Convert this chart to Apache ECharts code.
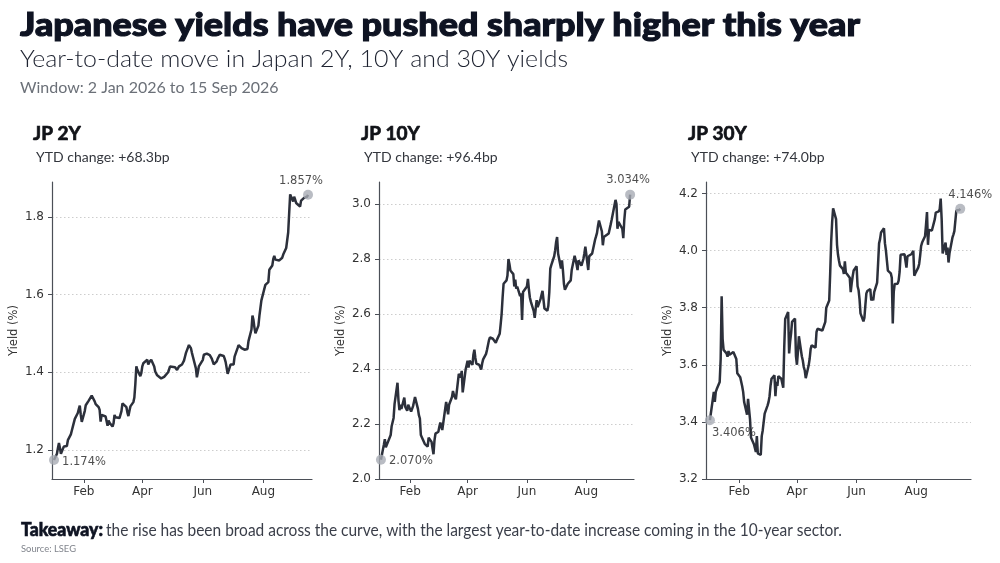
<!DOCTYPE html>
<html>
<head>
<meta charset="utf-8">
<script src="https://cdn.jsdelivr.net/npm/echarts@6/dist/echarts.min.js"></script>
<style>
  html, body { margin: 0; padding: 0; background: #fff; }
  #chart { width: 1000px; height: 563px; }
</style>
</head>
<body>
<div id="chart"></div>
<script>
// Window of business days (Mon-Fri) the series are sampled on
const startDate = [2026, 0, 2];
const endDate = [2026, 8, 15];

// Yields in %, one value per business day
const jp2y = [
  1.174, 1.190, 1.205, 1.218, 1.205, 1.190, 1.209, 1.205, 1.208, 1.210,
  1.225, 1.240, 1.250, 1.260, 1.262, 1.280, 1.295, 1.305, 1.314, 1.290,
  1.272, 1.300, 1.315, 1.320, 1.318, 1.327, 1.340, 1.345, 1.337, 1.325,
  1.318, 1.310, 1.303, 1.273, 1.290, 1.287, 1.286, 1.285, 1.262, 1.276,
  1.270, 1.260, 1.268, 1.290, 1.284, 1.282, 1.282, 1.284, 1.300, 1.320,
  1.318, 1.310, 1.296, 1.287, 1.300, 1.312, 1.323, 1.335, 1.370, 1.415,
  1.406, 1.390, 1.398, 1.415, 1.423, 1.420, 1.432, 1.420, 1.426, 1.428,
  1.432, 1.415, 1.402, 1.398, 1.392, 1.390, 1.384, 1.380, 1.385, 1.388,
  1.390, 1.400, 1.405, 1.415, 1.416, 1.415, 1.413, 1.410, 1.406, 1.410,
  1.415, 1.420, 1.424, 1.430, 1.440, 1.450, 1.470, 1.475, 1.462, 1.450,
  1.440, 1.410, 1.387, 1.400, 1.415, 1.420, 1.432, 1.445, 1.445, 1.441,
  1.448, 1.444, 1.440, 1.435, 1.430, 1.420, 1.428, 1.435, 1.440, 1.445,
  1.450, 1.442, 1.435, 1.426, 1.426, 1.396, 1.420, 1.420, 1.422, 1.420,
  1.440, 1.462, 1.470, 1.475, 1.468, 1.462, 1.458, 1.460, 1.458, 1.460,
  1.480, 1.510, 1.546, 1.535, 1.515, 1.500, 1.520, 1.545, 1.565, 1.585,
  1.587, 1.625, 1.628, 1.630, 1.632, 1.664, 1.675, 1.692, 1.700, 1.690,
  1.688, 1.688, 1.689, 1.688, 1.695, 1.703, 1.720, 1.740, 1.760, 1.810,
  1.858, 1.840, 1.852, 1.845, 1.836, 1.840, 1.827, 1.842, 1.844, 1.847,
  1.849, 1.852, 1.857
];

const jp10y = [
  2.070, 2.125, 2.145, 2.115, 2.112, 2.109, 2.160, 2.192, 2.188, 2.222,
  2.273, 2.350, 2.286, 2.250, 2.270, 2.255, 2.296, 2.262, 2.265, 2.248,
  2.270, 2.245, 2.240, 2.265, 2.260, 2.298, 2.255, 2.232, 2.220, 2.160,
  2.152, 2.128, 2.122, 2.122, 2.118, 2.150, 2.135, 2.112, 2.090, 2.140,
  2.165, 2.172, 2.190, 2.205, 2.198, 2.178, 2.255, 2.280, 2.285, 2.235,
  2.270, 2.298, 2.320, 2.305, 2.310, 2.290, 2.382, 2.375, 2.370, 2.393,
  2.315, 2.398, 2.414, 2.430, 2.405, 2.430, 2.415, 2.452, 2.470, 2.440,
  2.420, 2.415, 2.410, 2.398, 2.420, 2.435, 2.455, 2.470, 2.474, 2.505,
  2.515, 2.510, 2.514, 2.515, 2.495, 2.505, 2.528, 2.562, 2.600, 2.660,
  2.710, 2.722, 2.740, 2.800, 2.782, 2.758, 2.745, 2.700, 2.725, 2.692,
  2.700, 2.665, 2.675, 2.578, 2.680, 2.674, 2.700, 2.728, 2.690, 2.660,
  2.645, 2.610, 2.586, 2.620, 2.650, 2.625, 2.655, 2.670, 2.684, 2.680,
  2.620, 2.612, 2.630, 2.680, 2.765, 2.778, 2.810, 2.832, 2.862, 2.880,
  2.820, 2.765, 2.795, 2.758, 2.710, 2.688, 2.710, 2.712, 2.710, 2.722,
  2.760, 2.812, 2.796, 2.780, 2.760, 2.795, 2.776, 2.774, 2.800, 2.820,
  2.845, 2.760, 2.810, 2.810, 2.815, 2.820, 2.870, 2.882, 2.895, 2.920,
  2.940, 2.900, 2.850, 2.880, 2.880, 2.887, 2.893, 2.895, 2.925, 2.942,
  2.960, 3.015, 3.000, 2.910, 2.935, 2.928, 2.910, 2.876, 2.940, 2.980,
  2.984, 2.990, 3.034
];

const jp30y = [
  3.406, 3.480, 3.505, 3.470, 3.505, 3.515, 3.540, 3.620, 3.840, 3.690,
  3.652, 3.640, 3.628, 3.648, 3.635, 3.640, 3.645, 3.646, 3.640, 3.620,
  3.570, 3.556, 3.562, 3.525, 3.505, 3.470, 3.425, 3.481, 3.487, 3.410,
  3.345, 3.322, 3.325, 3.295, 3.350, 3.290, 3.284, 3.350, 3.370, 3.400,
  3.429, 3.458, 3.470, 3.490, 3.527, 3.551, 3.563, 3.490, 3.540, 3.526,
  3.560, 3.551, 3.555, 3.520, 3.660, 3.760, 3.785, 3.640, 3.680, 3.710,
  3.750, 3.762, 3.630, 3.600, 3.645, 3.700, 3.630, 3.615, 3.592, 3.580,
  3.553, 3.598, 3.621, 3.655, 3.668, 3.673, 3.660, 3.714, 3.726, 3.720,
  3.720, 3.720, 3.720, 3.725, 3.750, 3.800, 3.825, 3.920, 4.030, 4.100,
  4.148, 4.110, 4.020, 3.985, 3.964, 3.947, 3.935, 3.918, 3.962, 3.923,
  3.920, 3.905, 3.854, 3.885, 3.910, 3.930, 3.945, 3.875, 3.862, 3.830,
  3.780, 3.752, 3.765, 3.810, 3.850, 3.858, 3.865, 3.825, 3.835, 3.826,
  3.854, 3.888, 3.955, 4.025, 4.040, 4.063, 4.078, 4.025, 4.000, 3.965,
  3.930, 3.920, 3.905, 3.745, 3.855, 3.883, 3.884, 3.895, 3.925, 3.985,
  3.983, 3.987, 3.984, 3.940, 3.980, 3.982, 3.987, 3.993, 3.999, 3.912,
  3.920, 3.940, 3.953, 3.982, 4.016, 4.028, 4.050, 4.090, 4.135, 4.020,
  4.072, 4.070, 4.068, 4.069, 4.110, 4.133, 4.137, 4.145, 4.182, 4.110,
  3.990, 4.028, 3.985, 4.010, 3.958, 3.990, 4.045, 4.056, 4.068, 4.075,
  4.140, 4.142, 4.146
];

const panelNames = ['JP 2Y', 'JP 10Y', 'JP 30Y'];
const yTicks2 = [1.2, 1.4, 1.6, 1.8];
const yTicks10 = [2.0, 2.2, 2.4, 2.6, 2.8, 3.0];
const yTicks30 = [3.2, 3.4, 3.6, 3.8, 4.0, 4.2];
const monthTicks = [[2026, 1, 1], [2026, 3, 1], [2026, 5, 1], [2026, 7, 1]];
const monthNames = ['Jan', 'Feb', 'Mar', 'Apr', 'May', 'Jun', 'Jul', 'Aug', 'Sep', 'Oct', 'Nov', 'Dec'];

function ts(a) { return +new Date(a[0], a[1], a[2]); }

// Mon-Fri calendar between two dates, as timestamps
function businessDays(from, to) {
  const out = [];
  const d = new Date(from[0], from[1], from[2]);
  const last = new Date(to[0], to[1], to[2]);
  while (d <= last) {
    const wd = d.getDay();
    if (wd !== 0 && wd !== 6) out.push(+d);
    d.setDate(d.getDate() + 1);
  }
  return out;
}

// horizontal squeeze/stretch so a text line spans the wanted width
const measureCtx = document.createElement('canvas').getContext('2d');
function fitScale(text, font, width) {
  measureCtx.font = font;
  return width / measureCtx.measureText(text).width;
}

const dates = businessDays(startDate, endDate);
const lastIdx = dates.length - 1;

const chartDom = document.getElementById('chart');
const myChart = echarts.init(chartDom, null, { renderer: 'canvas' });

const axisColor = '#4b4f57';
const lineColor = '#2c303b';
const dotColor = '#a7abb4';
const tickFont = 'DejaVu Sans';

const panels = [
  { data: jp2y, ticks: yTicks2, min: 1.125, max: 1.89, left: 52, right: 688,
    xMin: [2025, 11, 31], xMax: [2026, 8, 19], startOff: [30, 2], endOff: [-7, -14],
    titleX: 33, subX: 36 },
  { data: jp10y, ticks: yTicks10, min: 2.0, max: 3.08, left: 379, right: 366,
    xMin: [2025, 11, 31], xMax: [2026, 8, 19], startOff: [30, 1], endOff: [-2, -15],
    titleX: 361, subX: 364 },
  { data: jp30y, ticks: yTicks30, min: 3.2, max: 4.24, left: 706, right: 29,
    xMin: [2025, 11, 29], xMax: [2026, 8, 26], startOff: [24, 13], endOff: [10, -14],
    titleX: 688, subX: 691 }
];

const grids = [], xAxes = [], yAxes = [], series = [], graphics = [];

panels.forEach((p, i) => {
  grids.push({ left: p.left, right: p.right, top: 182, bottom: 84 });

  xAxes.push({
    type: 'value',
    gridIndex: i,
    min: ts(p.xMin),
    max: ts(p.xMax),
    axisLine: { show: true, onZero: false, lineStyle: { color: axisColor, width: 1.2 } },
    axisTick: { show: true, length: 4, lineStyle: { color: axisColor, width: 1 },
      customValues: monthTicks.map(ts) },
    axisLabel: {
      customValues: monthTicks.map(ts),
      formatter: v => monthNames[new Date(v).getMonth()],
      color: '#333', fontFamily: tickFont, fontSize: 12, margin: 7
    },
    splitLine: { show: false }
  });

  yAxes.push({
    type: 'value',
    gridIndex: i,
    min: p.min,
    max: p.max,
    name: 'Yield (%)',
    nameLocation: 'middle',
    nameRotate: 90,
    nameGap: 32,
    nameTextStyle: { color: '#333', fontFamily: tickFont, fontSize: 11.5 },
    axisLine: { show: true, onZero: false, lineStyle: { color: axisColor, width: 1.2 } },
    axisTick: { show: true, length: 4, lineStyle: { color: axisColor, width: 1 },
      customValues: p.ticks },
    axisLabel: {
      customValues: p.ticks,
      formatter: v => v.toFixed(1),
      color: '#333', fontFamily: tickFont, fontSize: 12, margin: 8
    },
    splitLine: { show: true, lineStyle: { color: '#cdcdcd', width: 1, type: [1.5, 2.5] } }
  });

  series.push({
    type: 'line',
    xAxisIndex: i,
    yAxisIndex: i,
    showSymbol: false,
    data: dates.map((d, k) => [d, p.data[k]]),
    lineStyle: { color: lineColor, width: 2.5 },
    z: 2
  });

  series.push({
    type: 'scatter',
    xAxisIndex: i,
    yAxisIndex: i,
    symbolSize: 10,
    clip: false,
    itemStyle: { color: dotColor },
    label: {
      show: true,
      position: 'inside',
      formatter: q => q.value[1].toFixed(3) + '%',
      color: '#222',
      fontFamily: tickFont,
      fontSize: 11.5
    },
    data: [
      { value: [dates[0], p.data[0]], label: { offset: p.startOff } },
      { value: [dates[lastIdx], p.data[lastIdx]], label: { offset: p.endOff } }
    ],
    z: 3
  });

  const change = (p.data[lastIdx] - p.data[0]) * 100;
  graphics.push({
    type: 'text', x: p.titleX, y: 134,
    style: { text: panelNames[i], font: 'bold 19px Lato', fill: '#111318',
      stroke: '#111318', lineWidth: 0.7, verticalAlign: 'middle' }
  });
  graphics.push({
    type: 'text', x: p.subX, y: 157.5,
    style: { text: 'YTD change: ' + (change >= 0 ? '+' : '') + change.toFixed(1) + 'bp',
      font: '14px Lato', fill: '#33363d', verticalAlign: 'middle' }
  });
});

const titleText = 'Japanese yields have pushed sharply higher this year';
const titleFont = '900 32px Lato';
const subText = 'Year-to-date move in Japan 2Y, 10Y and 30Y yields';
const subFont = '300 23px Lato';
const takeLead = 'Takeaway:';
const takeLeadFont = '900 18px Lato';
const takeRest = 'the rise has been broad across the curve, with the largest year-to-date increase coming in the 10-year sector.';
const takeRestFont = '18px Lato';

graphics.push(
  { type: 'text', x: 20, y: 26, scaleX: fitScale(titleText, titleFont, 840),
    style: { text: titleText, font: titleFont, fill: '#0e1322',
      stroke: '#0e1322', lineWidth: 1.1, verticalAlign: 'middle' } },
  { type: 'text', x: 20, y: 60, scaleX: fitScale(subText, subFont, 548),
    style: { text: subText, font: subFont, fill: '#1d2230', verticalAlign: 'middle' } },
  { type: 'text', x: 20, y: 88,
    style: { text: 'Window: 2 Jan 2026 to 15 Sep 2026',
      font: '16px Lato', fill: '#6b7078', verticalAlign: 'middle' } },
  { type: 'text', x: 21, y: 530, scaleX: fitScale(takeLead, takeLeadFont, 82),
    style: { text: takeLead, font: takeLeadFont, fill: '#0e1322',
      stroke: '#0e1322', lineWidth: 0.6, verticalAlign: 'middle' } },
  { type: 'text', x: 106, y: 530, scaleX: fitScale(takeRest, takeRestFont, 736),
    style: { text: takeRest, font: takeRestFont, fill: '#3a3e49', verticalAlign: 'middle' } },
  { type: 'text', x: 21, y: 548.5, scaleX: fitScale('Source: LSEG', '9.5px Lato', 55),
    style: { text: 'Source: LSEG', font: '9.5px Lato', fill: '#80848c', verticalAlign: 'middle' } }
);

const option = {
  animation: false,
  backgroundColor: '#ffffff',
  grid: grids,
  xAxis: xAxes,
  yAxis: yAxes,
  series: series,
  graphic: graphics
};

myChart.setOption(option);
</script>
</body>
</html>
